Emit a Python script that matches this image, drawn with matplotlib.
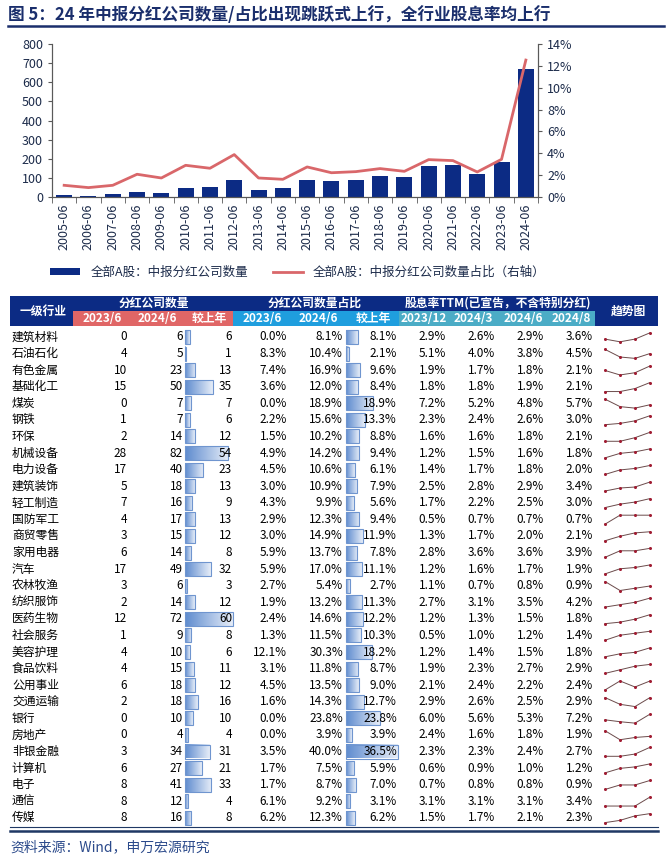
import numpy as np
import matplotlib
matplotlib.use('Agg')
from matplotlib import pyplot as plt
from matplotlib.colors import LinearSegmentedColormap
from matplotlib.patches import Rectangle

plt.rcParams['font.family'] = ['Noto Sans CJK SC', 'DejaVu Sans']

# ---- 上半部分：分红公司数量与占比 ----
periods = ['2005-06', '2006-06', '2007-06', '2008-06', '2009-06', '2010-06', '2011-06',
           '2012-06', '2013-06', '2014-06', '2015-06', '2016-06', '2017-06', '2018-06',
           '2019-06', '2020-06', '2021-06', '2022-06', '2023-06', '2024-06']
div_count = [10, 7, 14, 28, 23, 49, 52, 91, 38, 45, 87, 82, 91, 108, 105, 161, 168, 119, 183, 669]
div_share = [1.07, 0.86, 1.07, 2.08, 1.74, 2.90, 2.63, 3.88, 1.74, 1.62, 2.75, 2.22, 2.32, 2.60,
             2.35, 3.42, 3.33, 2.29, 3.45, 12.53]

# ---- 下半部分：行业表 ----
industries = ['建筑材料', '石油石化', '有色金属', '基础化工', '煤炭', '钢铁', '环保', '机械设备',
              '电力设备', '建筑装饰', '轻工制造', '国防军工', '商贸零售', '家用电器', '汽车',
              '农林牧渔', '纺织服饰', '医药生物', '社会服务', '美容护理', '食品饮料', '公用事业',
              '交通运输', '银行', '房地产', '非银金融', '计算机', '电子', '通信', '传媒']
cnt_2023 = [0, 4, 10, 15, 0, 1, 2, 28, 17, 5, 7, 4, 3, 6, 17, 3, 2, 12, 1, 4, 4, 6, 2, 0, 0, 3, 6, 8, 8, 8]
cnt_2024 = [6, 5, 23, 50, 7, 7, 14, 82, 40, 18, 16, 17, 15, 14, 49, 6, 14, 72, 9, 10, 15, 18, 18, 10, 4, 34, 27, 41, 12, 16]
cnt_chg = [6, 1, 13, 35, 7, 6, 12, 54, 23, 13, 9, 13, 12, 8, 32, 3, 12, 60, 8, 6, 11, 12, 16, 10, 4, 31, 21, 33, 4, 8]
shr_2023 = [0.0, 8.3, 7.4, 3.6, 0.0, 2.2, 1.5, 4.9, 4.5, 3.0, 4.3, 2.9, 3.0, 5.9, 5.9, 2.7, 1.9, 2.4, 1.3, 12.1,
            3.1, 4.5, 1.6, 0.0, 0.0, 3.5, 1.7, 1.7, 6.1, 6.2]
shr_2024 = [8.1, 10.4, 16.9, 12.0, 18.9, 15.6, 10.2, 14.2, 10.6, 10.9, 9.9, 12.3, 14.9, 13.7, 17.0, 5.4, 13.2,
            14.6, 11.5, 30.3, 11.8, 13.5, 14.3, 23.8, 3.9, 40.0, 7.5, 8.7, 9.2, 12.3]
shr_chg = [8.1, 2.1, 9.6, 8.4, 18.9, 13.3, 8.8, 9.4, 6.1, 7.9, 5.6, 9.4, 11.9, 7.8, 11.1, 2.7, 11.3, 12.2,
           10.3, 18.2, 8.7, 9.0, 12.7, 23.8, 3.9, 36.5, 5.9, 7.0, 3.1, 6.2]
dy_2312 = [2.9, 5.1, 1.9, 1.8, 7.2, 2.3, 1.6, 1.2, 1.4, 2.5, 1.7, 0.5, 1.3, 2.8, 1.2, 1.1, 2.7, 1.2, 0.5, 1.2,
           1.9, 2.1, 2.9, 6.0, 2.4, 2.3, 0.6, 0.7, 3.1, 1.5]
dy_2403 = [2.6, 4.0, 1.7, 1.8, 5.2, 2.4, 1.6, 1.5, 1.7, 2.8, 2.2, 0.7, 1.7, 3.6, 1.6, 0.7, 3.1, 1.3, 1.0, 1.4,
           2.3, 2.4, 2.6, 5.6, 1.6, 2.3, 0.9, 0.8, 3.1, 1.7]
dy_2406 = [2.9, 3.8, 1.8, 1.9, 4.8, 2.6, 1.8, 1.6, 1.8, 2.9, 2.5, 0.7, 2.0, 3.6, 1.7, 0.8, 3.5, 1.5, 1.2, 1.5,
           2.7, 2.2, 2.5, 5.3, 1.8, 2.4, 1.0, 0.8, 3.1, 2.1]
dy_2408 = [3.6, 4.5, 2.1, 2.1, 5.7, 3.0, 2.1, 1.8, 2.0, 3.4, 3.0, 0.7, 2.1, 3.9, 1.9, 0.9, 4.2, 1.8, 1.4, 1.8,
           2.9, 2.4, 2.9, 7.2, 1.9, 2.7, 1.2, 0.9, 3.4, 2.3]

navy = '#0c2b84'
salmon = '#e06666'
blue = '#1f9ede'
teal = '#4bacc6'
txt = '#1c2b4a'

fig = plt.figure(figsize=(6.71, 8.6), dpi=100)

# 整张图的像素坐标层（表格、标题、来源）
tab = fig.add_axes([0, 0, 1, 1])
tab.set_axis_off()
tab.patch.set_alpha(0)

# 标题
tab.text(8, 15, '图 5：24 年中报分红公司数量/占比出现跳跃式上行，全行业股息率均上行',
         fontsize=12, fontweight='bold', color='#1a2e6c', va='center', ha='left')
tab.plot([8, 664], [25.5, 25.5], color='#1a2e6c', lw=1.8)

# 上图
W, H = 671, 860
ax = fig.add_axes([52 / W, 1 - 197 / H, (538 - 52) / W, (197 - 44) / H])
x = np.arange(len(periods))
bars = ax.bar(x, div_count, width=0.66, color=navy, zorder=2, label='全部A股：中报分红公司数量')
ax.set_ylim(0, 800)
ax.set_yticks(range(0, 801, 100))
ax.set_xlim(-0.5, len(periods) - 0.5)
ax.set_xticks(x)
ax.set_xticklabels(periods, rotation=90)
ax.set_xticks(np.arange(-0.5, len(periods), 1), minor=True)
ax.tick_params(axis='x', which='major', length=0, pad=5, labelsize=9, labelcolor=txt)
ax.tick_params(axis='x', which='minor', length=4, color='#595959', direction='out')
ax.tick_params(axis='y', labelsize=9, labelcolor=txt, length=3, color='#595959')
ax.spines['top'].set_visible(False)
for s in ['left', 'right', 'bottom']:
    ax.spines[s].set_color('#595959')

ax2 = ax.twinx()
line, = ax2.plot(x, div_share, color='#d9676a', lw=2.0, zorder=3,
                 label='全部A股：中报分红公司数量占比（右轴）')
ax2.set_ylim(0, 14)
ax2.set_yticks(range(0, 15, 2))
ax2.set_yticklabels([f'{v}%' for v in range(0, 15, 2)])
ax2.tick_params(axis='y', labelsize=9, labelcolor=txt, length=3, color='#595959')
ax2.spines['top'].set_visible(False)
for s in ['left', 'right', 'bottom']:
    ax2.spines[s].set_color('#595959')

fig.legend(handles=[bars, line], loc='center', bbox_to_anchor=(298 / W, 1 - 272 / H), ncol=2,
           frameon=False, fontsize=9, handlelength=2.4, handleheight=0.5, columnspacing=2.0,
           labelcolor=txt)

# ---- 表头 ----
tab.add_patch(Rectangle((10, 296), 648, 30, color=navy, lw=0))
tab.add_patch(Rectangle((73, 311), 160, 15, color=salmon, lw=0))
tab.add_patch(Rectangle((233, 311), 166, 15, color=blue, lw=0))
tab.add_patch(Rectangle((399, 311), 196, 15, color=teal, lw=0))

hdr = dict(color='white', fontweight='bold', fontsize=8.5, ha='center', va='center')
tab.text(43, 311, '一级行业', **hdr)
tab.text(628, 311, '趋势图', **hdr)
tab.text(154, 303.5, '分红公司数量', **hdr)
tab.text(315, 303.5, '分红公司数量占比', **hdr)
tab.text(498, 303.5, '股息率TTM(已宣告，不含特别分红)', **hdr)
sub_heads = ['2023/6', '2024/6', '较上年', '2023/6', '2024/6', '较上年', '2023/12', '2024/3', '2024/6', '2024/8']
sub_x = [102, 157, 209, 262, 318, 373, 424, 473, 523, 571]
for lab, sx in zip(sub_heads, sub_x):
    tab.text(sx, 318.5, lab, **hdr)

# ---- 数据行 ----
row0, rh = 337, 16.58
col_right = [127, 183, 232, 287, 343, 397, 446, 495, 544, 593]
bar_cmap = LinearSegmentedColormap.from_list('bar', ['#5f8ccf', '#e6edf8'])
grad = np.linspace(0, 1, 64).reshape(1, -1)
cnt_scale = 48 / max(cnt_chg)
shr_scale = 52 / max(shr_chg)
spark_x = np.linspace(605, 650, 4)

for i, name in enumerate(industries):
    yc = row0 + i * rh
    # 数据条
    for x0, val, sc in [(185, cnt_chg[i], cnt_scale), (346, shr_chg[i], shr_scale)]:
        w = max(val * sc, 1.0)
        tab.imshow(grad, extent=(x0, x0 + w, yc + 7, yc - 7), cmap=bar_cmap, aspect='auto',
                   interpolation='bilinear', zorder=1)
        tab.add_patch(Rectangle((x0, yc - 7), w, 14, fill=False, ec='#6f95cf', lw=0.8, zorder=1.5))
    tab.text(12, yc, name, fontsize=8.5, color='black', ha='left', va='center', zorder=3)
    vals = [f'{cnt_2023[i]}', f'{cnt_2024[i]}', f'{cnt_chg[i]}',
            f'{shr_2023[i]:.1f}%', f'{shr_2024[i]:.1f}%', f'{shr_chg[i]:.1f}%',
            f'{dy_2312[i]:.1f}%', f'{dy_2403[i]:.1f}%', f'{dy_2406[i]:.1f}%', f'{dy_2408[i]:.1f}%']
    for v, cx in zip(vals, col_right):
        tab.text(cx, yc, v, fontsize=8.5, color='black', ha='right', va='center', zorder=3)
    # 趋势图
    sp = np.array([dy_2312[i], dy_2403[i], dy_2406[i], dy_2408[i]])
    rng = sp.max() - sp.min()
    if rng == 0:
        sy = np.full(4, yc)
    else:
        sy = yc + 4.8 - (sp - sp.min()) / rng * 9.0
    tab.plot(spark_x, sy, color='#6b4b4b', lw=0.7, zorder=3)
    tab.plot(spark_x, sy, 'o', ms=2.2, mew=0, color='#a01c32', zorder=4)

# 表格底线
tab.plot([10, 658], [826.5, 826.5], color='#1f3864', lw=0.8)
tab.plot([10, 658], [830.5, 830.5], color='#1f3864', lw=1.8)

tab.text(10, 847, '资料来源：Wind，申万宏源研究', fontsize=10, color='#2b4a8b', ha='left', va='center')

tab.set_xlim(0, W)
tab.set_ylim(H, 0)

fig.savefig('out.png', dpi=100)
